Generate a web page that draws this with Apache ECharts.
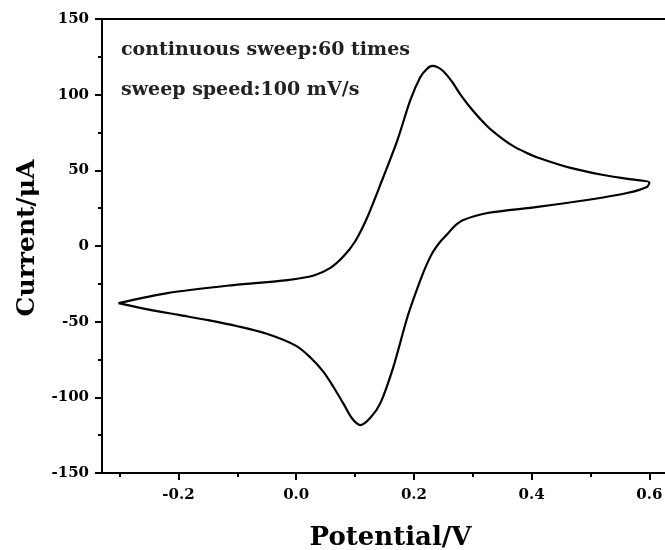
<!DOCTYPE html>
<html>
<head>
<meta charset="utf-8">
<script src="https://cdn.jsdelivr.net/npm/echarts@6/dist/echarts.min.js"></script>
<style>html,body{margin:0;padding:0;background:#fff;}#chart{width:665px;height:550px;}</style>
</head>
<body>
<div id="chart"></div>
<script>
// Forward (anodic) sweep: -0.30 V -> 0.60 V
var potentialForward = [-0.302, -0.219, -0.107, -0.015, 0.030, 0.058, 0.080, 0.100, 0.121, 0.148, 0.172, 0.194, 0.211, 0.222, 0.231, 0.240, 0.250, 0.265, 0.280, 0.300, 0.325, 0.350, 0.369, 0.390, 0.410, 0.466, 0.522, 0.570, 0.600];
var currentForward   = [-37.7, -31.1, -25.8, -22.5, -19.5, -14.5, -7, 3, 19.2, 45.6, 70, 96.5, 111.7, 117, 119, 118.2, 115.5, 108.5, 99.5, 89.5, 79, 71, 66, 61.8, 58.5, 51.6, 46.9, 44, 42];
// Reverse (cathodic) sweep: 0.60 V -> -0.30 V
var potentialReverse = [0.600, 0.596, 0.562, 0.494, 0.410, 0.325, 0.284, 0.270, 0.257, 0.245, 0.233, 0.222, 0.211, 0.189, 0.165, 0.143, 0.126, 0.109, 0.095, 0.080, 0.063, 0.046, 0.025, 0.000, -0.050, -0.100, -0.150, -0.200, -0.250, -0.302];
var currentReverse   = [42, 39, 35, 30.4, 25.8, 21.8, 17.2, 13.5, 8, 3, -3.5, -12, -22.5, -46.9, -80, -103.8, -113.5, -118.3, -114, -104, -93, -83, -74, -66, -58, -53, -49, -45.5, -42, -37.7];
var xMajorTicks = [-0.2, 0.0, 0.2, 0.4, 0.6];
var xMinorTicks = [-0.3, -0.1, 0.1, 0.3, 0.5];
var annotations = ['continuous sweep:60 times', 'sweep speed:100 mV/s'];

var cvData = [];
for (var i = 0; i < potentialForward.length; i++) cvData.push([potentialForward[i], currentForward[i]]);
for (var j = 1; j < potentialReverse.length; j++) cvData.push([potentialReverse[j], currentReverse[j]]);

var FONT = 'DejaVu Serif';
var chart = echarts.init(document.getElementById('chart'), null, {renderer: 'canvas'});
chart.setOption({
  animation: false,
  backgroundColor: '#fff',
  grid: {left: 102, right: -2, top: 19, bottom: 77, containLabel: false, outerBoundsMode: 'none'},
  xAxis: [{
    type: 'value', min: -0.33, max: 0.63, position: 'bottom',
    name: 'Potential/V', nameLocation: 'middle', nameGap: 52,
    nameTextStyle: {fontFamily: FONT, fontWeight: 'bold', fontSize: 26, color: '#000', padding: [0, 0, 0, 12]},
    axisLine: {show: true, onZero: false, lineStyle: {color: '#000', width: 2}},
    axisTick: {show: true, inside: false, length: 7, customValues: xMajorTicks, lineStyle: {color: '#000', width: 2}},
    axisLabel: {show: true, margin: 15, customValues: xMajorTicks, fontFamily: FONT, fontWeight: 'bold', fontSize: 15, color: '#000',
      formatter: function (v) { return v.toFixed(1); }},
    splitLine: {show: false}
  }, {
    type: 'value', min: -0.33, max: 0.63, position: 'bottom',
    axisLine: {show: false, onZero: false},
    axisTick: {show: true, inside: false, length: 4, customValues: xMinorTicks, lineStyle: {color: '#000', width: 2}},
    axisLabel: {show: false},
    splitLine: {show: false}
  }, {
    type: 'value', min: -0.33, max: 0.63, position: 'top',
    axisLine: {show: true, onZero: false, lineStyle: {color: '#000', width: 2}},
    axisTick: {show: false}, axisLabel: {show: false}, splitLine: {show: false}
  }],
  yAxis: [{
    type: 'value', min: -150, max: 150, interval: 50, position: 'left',
    name: 'Current/μA', nameLocation: 'middle', nameGap: 62, nameRotate: 90,
    nameTextStyle: {fontFamily: FONT, fontWeight: 'bold', fontSize: 25, color: '#000', padding: [0, 0, 0, 16]},
    axisLine: {show: true, onZero: false, lineStyle: {color: '#000', width: 2}},
    axisTick: {show: true, inside: false, length: 7, lineStyle: {color: '#000', width: 2}},
    minorTick: {show: true, splitNumber: 2, length: 4, lineStyle: {color: '#000', width: 2}},
    axisLabel: {show: true, margin: 13, fontFamily: FONT, fontWeight: 'bold', fontSize: 15, color: '#000'},
    splitLine: {show: false}, minorSplitLine: {show: false}
  }],
  graphic: [
    {type: 'text', left: 121, top: 41, style: {text: annotations[0], font: 'bold 19px "DejaVu Serif"', fill: '#222'}},
    {type: 'text', left: 121, top: 81, style: {text: annotations[1], font: 'bold 19px "DejaVu Serif"', fill: '#222'}}
  ],
  series: [{
    type: 'line', xAxisIndex: 0, yAxisIndex: 0, data: cvData,
    showSymbol: false, smooth: 0.3, clip: true,
    lineStyle: {color: '#000', width: 2.2}
  }]
});
</script>
</body>
</html>
